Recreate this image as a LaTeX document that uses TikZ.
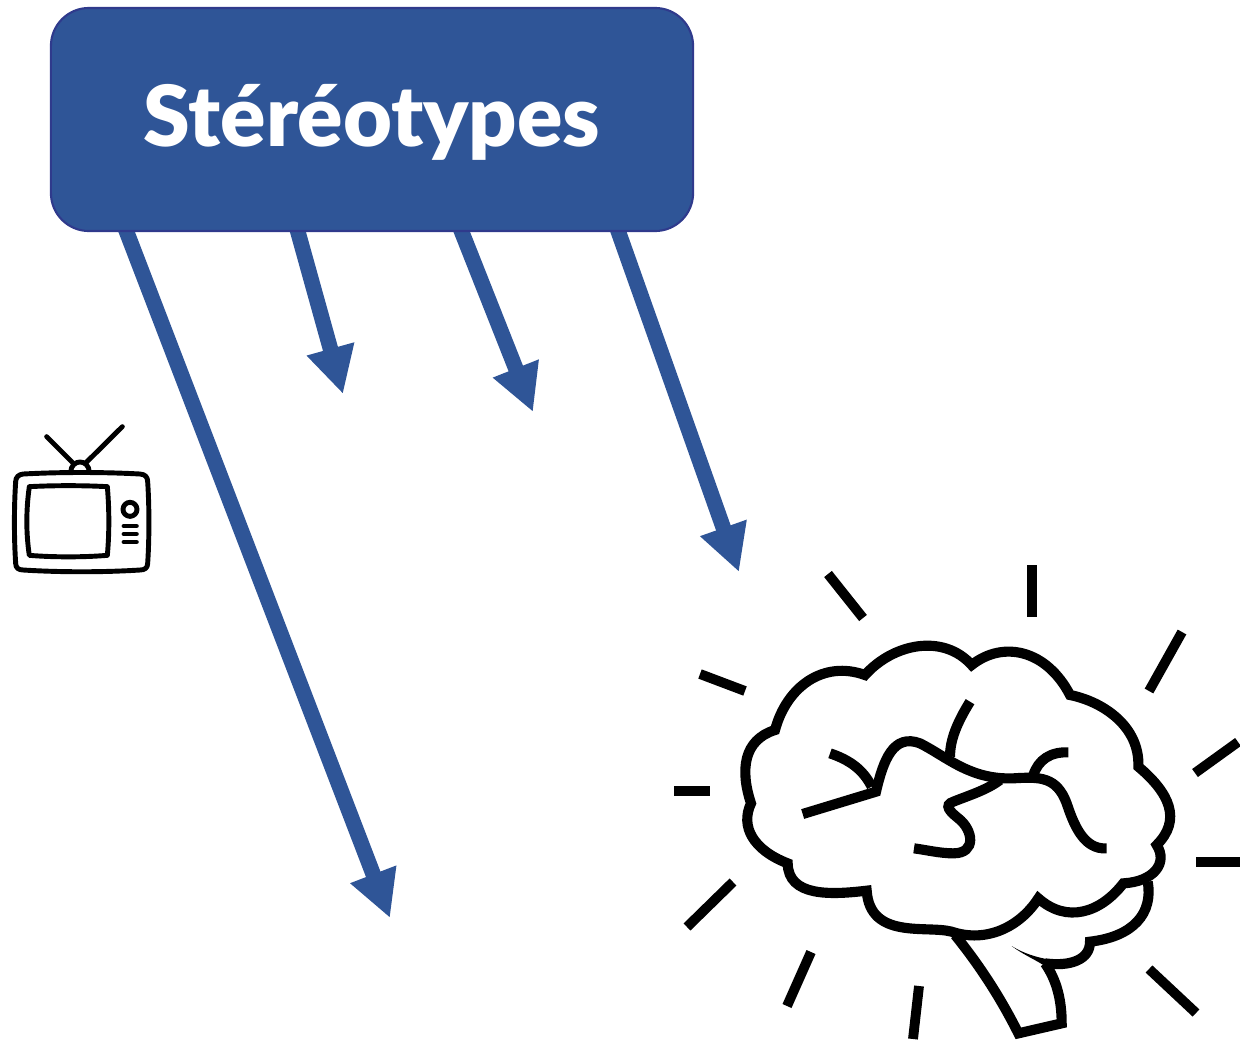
\documentclass[tikz,border=0pt]{standalone}
\usepackage{fontspec}
\setmainfont{Lato}[BoldFont={Lato Black}]
\usepackage{tikz}
\usetikzlibrary{arrows.meta, positioning, calc}
\definecolor{stereoblue}{HTML}{2F5597}
\definecolor{stereoedge}{HTML}{2F3A8C}

\begin{document}
\begin{tikzpicture}[
  x=0.025cm, y=-0.025cm,
  title/.style={draw=stereoedge, fill=stereoblue, line width=1.5pt, rounded corners=0.95cm,
                minimum width=16.05cm, minimum height=5.575cm, text=white,
                text height=48pt, text depth=9pt,
                font=\fontsize{60}{64}\selectfont\bfseries, inner sep=0pt},
  arrow/.style={-{Triangle[length=1.17cm, width=1.15cm]}, line width=11pt, color=stereoblue},
  ink/.style={draw=black, line width=7.2pt, miter limit=6},
  ray/.style={draw=black, line width=7pt},
  tv/.style={draw=black, line width=3.5pt, line cap=round, line join=round}
]
  \useasboundingbox (0,0) rectangle (1240,1039);

  \coordinate (start1) at (124,225);
  \coordinate (start2) at (296,225);
  \coordinate (start3) at (459,225);
  \coordinate (start4) at (616,225);
  \coordinate (end1) at (390,918);
  \coordinate (end2) at (343,394);
  \coordinate (end3) at (533,412);
  \coordinate (end4) at (739,572);

  \draw[arrow] (start1) -- (end1);
  \draw[arrow] (start2) -- (end2);
  \draw[arrow] (start3) -- (end3);
  \draw[arrow] (start4) -- (end4);

  \node[title] (box) at (372,119.5) {Stéréotypes};

  % tv
  \begin{scope}[shift={(0,410)}, x=0.008333cm, y=-0.008333cm]
    \draw[tv] (70,192) .. controls (180,186) and (310,186) .. (420,192)
      .. controls (436,193) and (443,202) .. (443,215)
      .. controls (448,290) and (448,385) .. (443,460)
      .. controls (443,474) and (434,480) .. (420,480)
      .. controls (310,487) and (180,487) .. (70,480)
      .. controls (56,480) and (47,474) .. (47,460)
      .. controls (42,385) and (42,290) .. (47,215)
      .. controls (47,202) and (56,193) .. (70,192) -- cycle;
    \draw[tv] (88,230) .. controls (160,226) and (250,226) .. (322,230)
      .. controls (328,300) and (328,370) .. (322,436)
      .. controls (250,442) and (160,442) .. (88,436)
      .. controls (78,370) and (78,300) .. (88,230) -- cycle;
    \draw[tv] (390,298) circle (21);
    \draw[tv] (372,348) -- (409,348);
    \draw[tv] (372,372) -- (409,372);
    \draw[tv] (372,396) -- (409,396);
    \draw[tv] (140,80) -- (218,158);
    \draw[tv] (367,50) -- (258,158);
    \draw[tv] (212,186) .. controls (214,146) and (266,146) .. (268,186);
  \end{scope}

  % rays
  \draw[ray] (828,574) -- (863,618);
  \draw[ray] (1032,565) -- (1032,617);
  \draw[ray] (1182,632) -- (1149,691);
  \draw[ray] (1238,742) -- (1195,773);
  \draw[ray] (1196,862) -- (1240,862);
  \draw[ray] (1196,1013) -- (1149,969);
  \draw[ray] (919,986) -- (913,1039);
  \draw[ray] (811,952) -- (787,1006);
  \draw[ray] (733,882) -- (687,927);
  \draw[ray] (674,791) -- (710,791);
  \draw[ray] (700,674) -- (745,691);

  % brain
  \begin{scope}[shift={(720,620)}, x=0.008333cm, y=-0.008333cm]
    \draw[ink] (165,330) .. controls (200,200) and (310,120) .. (435,165)
      .. controls (520,70) and (670,40) .. (755,135)
      .. controls (850,60) and (980,90) .. (1050,225)
      .. controls (1150,245) and (1260,320) .. (1255,440)
      .. controls (1350,520) and (1385,600) .. (1310,675)
      .. controls (1345,730) and (1300,785) .. (1210,790)
      .. controls (1140,880) and (1040,910) .. (955,835)
      .. controls (900,920) and (800,970) .. (695,935)
      .. controls (620,915) and (450,960) .. (440,812)
      .. controls (330,825) and (205,830) .. (203,730)
      .. controls (100,690) and (60,620) .. (93,550)
      .. controls (60,450) and (70,360) .. (165,330) -- cycle;
    \draw[ink] (1283,785) .. controls (1300,880) and (1240,950) .. (1110,965)
      .. controls (1110,1020) and (1050,1040) .. (975,1030);
    \fill (875,978) .. controls (910,1000) and (950,1012) .. (985,1018) -- (985,1045) .. controls (950,1020) and (910,1005) .. cycle;
    \draw[ink] (975,1030) .. controls (1010,1080) and (1025,1140) .. (1025,1210)
      -- (895,1240) .. controls (850,1150) and (790,1050) .. (705,945);
    \draw[ink] (330,400) .. controls (390,420) and (430,450) .. (455,500);
    \draw[ink] (248,582) -- (468,515) .. controls (490,420) and (520,340) .. (600,370)
      .. controls (680,410) and (750,480) .. (880,475)
      .. controls (960,470) and (1010,470) .. (1040,550)
      .. controls (1060,610) and (1090,690) .. (1160,685);
    \draw[ink] (750,245) .. controls (710,310) and (690,360) .. (690,410);
    \draw[ink] (1045,397) .. controls (990,395) and (955,420) .. (940,465);
    \draw[ink] (840,480) .. controls (800,510) and (750,525) .. (700,545)
      .. controls (670,555) and (690,575) .. (715,595)
      .. controls (760,630) and (770,700) .. (700,700)
      .. controls (660,700) and (620,690) .. (582,685);
  \end{scope}
\end{tikzpicture}
\end{document}
